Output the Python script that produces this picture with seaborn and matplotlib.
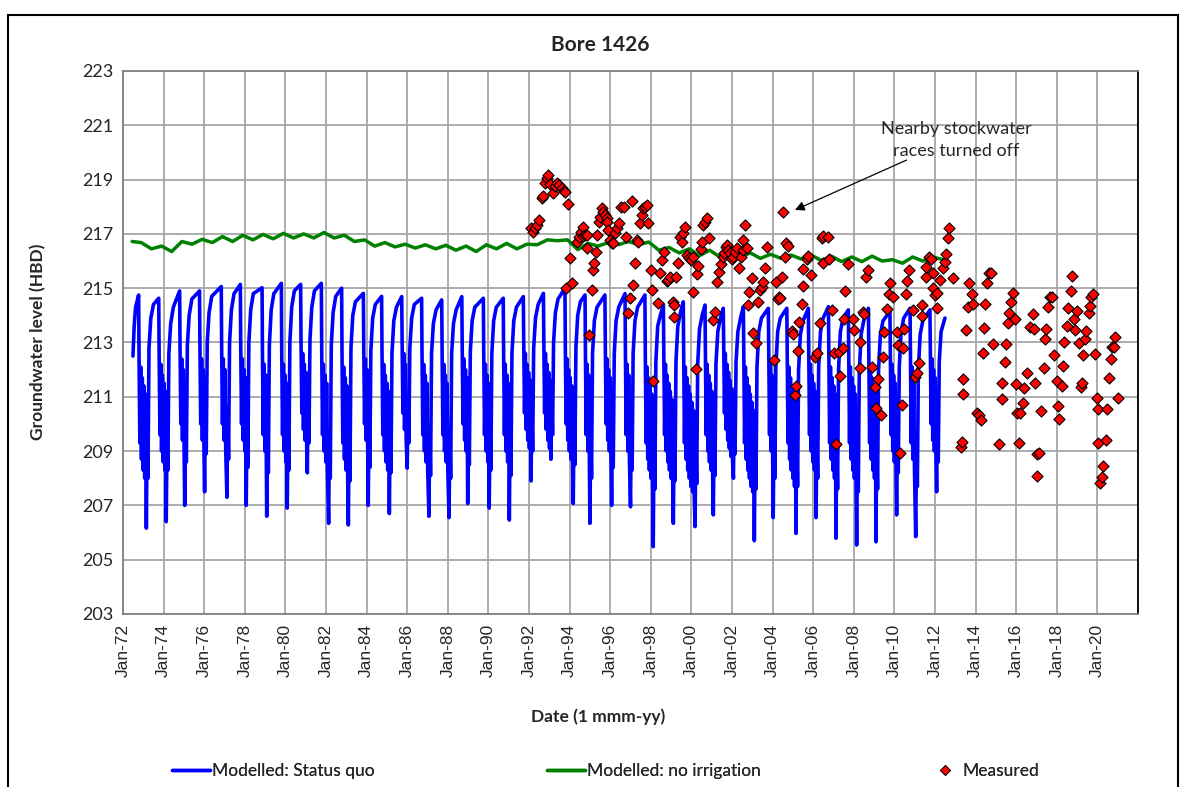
import matplotlib
matplotlib.use("Agg")
import matplotlib.pyplot as plt
from matplotlib.patches import Rectangle
from matplotlib.lines import Line2D
import seaborn as sns
import pandas as pd

# ---------------- data (decimal years, level in m HBD) ----------------
status_quo_dates = [
    1972.49, 1972.55, 1972.62,
    1972.77, 1972.79, 1972.83, 1972.87, 1972.91, 1972.95, 1972.99, 1973.03, 1973.07, 1973.11, 1973.15, 1973.19, 1973.23, 1973.28, 1973.37, 1973.50,
    1973.76, 1973.78, 1973.82, 1973.86, 1973.90, 1973.94, 1973.98, 1974.02, 1974.06, 1974.10, 1974.13, 1974.17, 1974.21, 1974.26, 1974.35, 1974.48,
    1974.79, 1974.81, 1974.85, 1974.89, 1974.93, 1974.97, 1975.01, 1975.04, 1975.08, 1975.12, 1975.17, 1975.26, 1975.39,
    1975.77, 1975.79, 1975.83, 1975.87, 1975.91, 1975.95, 1975.99, 1976.02, 1976.06, 1976.10, 1976.15, 1976.24, 1976.37,
    1976.84, 1976.86, 1976.90, 1976.94, 1976.98, 1977.02, 1977.06, 1977.12, 1977.16, 1977.20, 1977.25, 1977.34, 1977.47,
    1977.78, 1977.80, 1977.84, 1977.88, 1977.92, 1977.96, 1978.00, 1978.04, 1978.07, 1978.11, 1978.15, 1978.20, 1978.29, 1978.42,
    1978.85, 1978.87, 1978.91, 1978.95, 1978.99, 1979.03, 1979.08, 1979.12, 1979.16, 1979.21, 1979.30, 1979.43,
    1979.80, 1979.82, 1979.86, 1979.90, 1979.94, 1979.98, 1980.02, 1980.06, 1980.09, 1980.13, 1980.17, 1980.22, 1980.31, 1980.44,
    1980.75, 1980.77, 1980.81, 1980.85, 1980.89, 1980.93, 1980.97, 1981.01, 1981.05, 1981.08, 1981.12, 1981.16, 1981.21, 1981.30, 1981.43,
    1981.77, 1981.79, 1981.83, 1981.87, 1981.91, 1981.95, 1981.99, 1982.03, 1982.07, 1982.13, 1982.17, 1982.21, 1982.26, 1982.35, 1982.48,
    1982.77, 1982.79, 1982.83, 1982.87, 1982.91, 1982.95, 1982.99, 1983.03, 1983.07, 1983.10, 1983.14, 1983.18, 1983.23, 1983.32, 1983.45,
    1983.84, 1983.86, 1983.90, 1983.94, 1983.98, 1984.02, 1984.08, 1984.12, 1984.16, 1984.21, 1984.30, 1984.43,
    1984.74, 1984.76, 1984.80, 1984.84, 1984.88, 1984.92, 1984.96, 1985.00, 1985.04, 1985.08, 1985.12, 1985.16, 1985.20, 1985.25, 1985.34, 1985.47,
    1985.73, 1985.75, 1985.79, 1985.83, 1985.87, 1985.91, 1985.95, 1986.00, 1986.04, 1986.08, 1986.13, 1986.22, 1986.35,
    1986.71, 1986.73, 1986.77, 1986.81, 1986.85, 1986.89, 1986.93, 1986.97, 1987.01, 1987.07, 1987.11, 1987.15, 1987.20, 1987.29, 1987.42,
    1987.70, 1987.72, 1987.76, 1987.80, 1987.84, 1987.88, 1987.92, 1987.96, 1988.00, 1988.06, 1988.10, 1988.14, 1988.19, 1988.28, 1988.41,
    1988.69, 1988.71, 1988.75, 1988.79, 1988.83, 1988.87, 1988.91, 1988.95, 1988.98, 1989.02, 1989.06, 1989.11, 1989.20, 1989.33,
    1989.75, 1989.77, 1989.81, 1989.85, 1989.89, 1989.93, 1989.97, 1990.01, 1990.04, 1990.08, 1990.12, 1990.17, 1990.26, 1990.39,
    1990.73, 1990.75, 1990.79, 1990.83, 1990.87, 1990.91, 1990.95, 1990.99, 1991.03, 1991.07, 1991.11, 1991.16, 1991.25, 1991.38,
    1991.72, 1991.74, 1991.78, 1991.82, 1991.86, 1991.90, 1991.94, 1991.98, 1992.02, 1992.06, 1992.10, 1992.14, 1992.18, 1992.23, 1992.32, 1992.45,
    1992.71, 1992.73, 1992.77, 1992.81, 1992.85, 1992.89, 1992.93, 1992.97, 1993.01, 1993.05, 1993.08, 1993.12, 1993.16, 1993.21, 1993.30, 1993.43,
    1993.77, 1993.79, 1993.83, 1993.87, 1993.91, 1993.95, 1993.99, 1994.03, 1994.07, 1994.11, 1994.15, 1994.18, 1994.22, 1994.26, 1994.31, 1994.40, 1994.53,
    1994.76, 1994.78, 1994.82, 1994.86, 1994.90, 1994.94, 1995.00, 1995.04, 1995.08, 1995.13, 1995.22, 1995.35,
    1995.74, 1995.76, 1995.80, 1995.84, 1995.88, 1995.92, 1995.96, 1996.00, 1996.04, 1996.07, 1996.11, 1996.15, 1996.20, 1996.29, 1996.42,
    1996.73, 1996.75, 1996.79, 1996.83, 1996.87, 1996.91, 1996.95, 1997.00, 1997.04, 1997.08, 1997.13, 1997.22, 1997.35,
    1997.71, 1997.73, 1997.77, 1997.81, 1997.85, 1997.89, 1997.93, 1997.97, 1998.01, 1998.05, 1998.09, 1998.12, 1998.16, 1998.20, 1998.25, 1998.34, 1998.47,
    1998.62, 1998.64, 1998.68, 1998.72, 1998.76, 1998.80, 1998.84, 1998.88, 1998.92, 1998.96, 1999.00, 1999.04, 1999.08, 1999.11, 1999.15, 1999.19, 1999.24, 1999.33, 1999.46,
    1999.60, 1999.62, 1999.66, 1999.70, 1999.74, 1999.78, 1999.82, 1999.86, 1999.90, 1999.94, 1999.98, 2000.02, 2000.06, 2000.10, 2000.14, 2000.18, 2000.22, 2000.26, 2000.31, 2000.40, 2000.53,
    2000.67, 2000.69, 2000.73, 2000.77, 2000.81, 2000.85, 2000.89, 2000.93, 2000.97, 2001.01, 2001.05, 2001.08, 2001.12, 2001.16, 2001.21, 2001.30, 2001.43,
    2001.57, 2001.59, 2001.63, 2001.67, 2001.71, 2001.75, 2001.79, 2001.83, 2001.87, 2001.91, 2001.95, 2001.99, 2002.03, 2002.07, 2002.11, 2002.15, 2002.20, 2002.29, 2002.42,
    2002.56, 2002.58, 2002.62, 2002.66, 2002.70, 2002.74, 2002.78, 2002.82, 2002.86, 2002.90, 2002.94, 2002.98, 2003.02, 2003.06, 2003.10, 2003.14, 2003.18, 2003.23, 2003.32, 2003.45,
    2003.79, 2003.81, 2003.85, 2003.89, 2003.93, 2003.97, 2004.03, 2004.07, 2004.11, 2004.16, 2004.25, 2004.38,
    2004.70, 2004.72, 2004.76, 2004.80, 2004.84, 2004.88, 2004.92, 2004.96, 2005.00, 2005.04, 2005.08, 2005.12, 2005.15, 2005.19, 2005.23, 2005.28, 2005.37, 2005.50,
    2005.76, 2005.78, 2005.82, 2005.86, 2005.90, 2005.94, 2005.98, 2006.02, 2006.06, 2006.10, 2006.14, 2006.18, 2006.22, 2006.27, 2006.36, 2006.49,
    2006.75, 2006.77, 2006.81, 2006.85, 2006.89, 2006.93, 2006.97, 2007.01, 2007.05, 2007.09, 2007.12, 2007.16, 2007.20, 2007.25, 2007.34, 2007.47,
    2007.73, 2007.75, 2007.79, 2007.83, 2007.87, 2007.91, 2007.95, 2007.99, 2008.03, 2008.07, 2008.11, 2008.14, 2008.18, 2008.22, 2008.27, 2008.36, 2008.49,
    2008.72, 2008.74, 2008.78, 2008.82, 2008.86, 2008.90, 2008.94, 2008.98, 2009.02, 2009.06, 2009.09, 2009.13, 2009.17, 2009.22, 2009.31, 2009.44,
    2009.78, 2009.80, 2009.84, 2009.88, 2009.92, 2009.96, 2010.00, 2010.04, 2010.08, 2010.11, 2010.15, 2010.19, 2010.24, 2010.33, 2010.46,
    2010.77, 2010.79, 2010.83, 2010.87, 2010.91, 2010.95, 2010.99, 2011.05, 2011.09, 2011.13, 2011.18, 2011.27, 2011.40,
    2011.75, 2011.77, 2011.81, 2011.85, 2011.89, 2011.93, 2011.97, 2012.01, 2012.05, 2012.08, 2012.12, 2012.16, 2012.21, 2012.30, 2012.49,
]
status_quo_levels = [
    212.5, 213.6, 214.3,
    214.75, 212.5, 209.3, 212.1, 208.7, 211.7, 208.3, 211.4, 208.0, 211.1, 206.16, 210.0, 208.0, 212.8, 213.9, 214.4,
    214.63, 212.6, 209.6, 212.2, 209.0, 211.8, 208.6, 211.5, 208.3, 211.2, 206.40, 209.6, 208.3, 212.6, 213.7, 214.3,
    214.90, 212.8, 210.0, 212.4, 209.4, 212.0, 209.0, 207.00, 210.4, 208.6, 212.9, 214.0, 214.6,
    214.90, 212.8, 210.0, 212.4, 209.4, 212.0, 209.0, 207.50, 210.8, 208.9, 213.0, 214.1, 214.7,
    215.06, 212.8, 210.0, 212.4, 209.4, 212.0, 209.0, 207.30, 210.6, 208.7, 213.0, 214.2, 214.8,
    215.14, 212.8, 210.0, 212.4, 209.4, 212.0, 209.0, 211.7, 207.00, 210.3, 208.4, 213.0, 214.2, 214.8,
    215.02, 212.6, 209.6, 212.2, 209.0, 211.8, 206.60, 209.9, 208.2, 212.9, 214.2, 214.8,
    215.18, 212.6, 209.6, 212.2, 209.0, 211.8, 208.6, 211.5, 206.90, 210.1, 208.3, 213.0, 214.3, 214.9,
    215.14, 213.0, 210.4, 212.6, 209.8, 212.2, 209.4, 211.9, 209.1, 208.20, 211.0, 209.3, 213.1, 214.3, 214.9,
    215.18, 212.6, 209.6, 212.2, 209.0, 211.8, 208.6, 211.5, 208.3, 206.34, 209.8, 208.0, 212.9, 214.1, 214.7,
    215.00, 212.5, 209.3, 212.1, 208.7, 211.7, 208.3, 211.4, 208.0, 206.28, 209.7, 207.9, 212.8, 214.0, 214.5,
    214.81, 212.8, 210.0, 212.4, 209.4, 212.0, 207.00, 210.2, 208.4, 212.7, 213.9, 214.4,
    214.70, 212.6, 209.6, 212.2, 209.0, 211.8, 208.6, 211.5, 208.3, 211.2, 206.70, 209.9, 208.2, 212.6, 213.8, 214.3,
    214.69, 213.0, 210.4, 212.6, 209.8, 212.2, 209.4, 208.37, 210.9, 209.3, 212.8, 213.9, 214.4,
    214.63, 212.6, 209.6, 212.2, 209.0, 211.8, 208.6, 211.5, 208.3, 206.60, 209.8, 208.1, 212.6, 213.7, 214.2,
    214.57, 212.6, 209.6, 212.2, 209.0, 211.8, 208.6, 211.5, 208.3, 206.55, 209.7, 208.0, 212.6, 213.7, 214.2,
    214.69, 212.8, 210.0, 212.4, 209.4, 212.0, 209.0, 211.7, 207.07, 210.2, 208.5, 212.7, 213.8, 214.3,
    214.63, 212.6, 209.6, 212.2, 209.0, 211.8, 208.6, 211.5, 206.90, 210.0, 208.3, 212.6, 213.8, 214.3,
    214.63, 212.6, 209.6, 212.2, 209.0, 211.8, 208.6, 211.5, 206.46, 209.8, 208.1, 212.6, 213.8, 214.3,
    214.69, 213.0, 210.4, 212.6, 209.8, 212.2, 209.4, 211.9, 209.1, 211.6, 207.90, 210.6, 209.0, 212.8, 213.9, 214.4,
    214.81, 213.0, 210.4, 212.6, 209.8, 212.2, 209.4, 211.9, 209.1, 211.6, 208.70, 211.2, 209.6, 213.0, 214.1, 214.6,
    215.00, 212.8, 210.0, 212.4, 209.4, 212.0, 209.0, 211.7, 208.7, 211.4, 208.4, 207.07, 210.2, 208.5, 212.8, 214.0, 214.5,
    214.75, 212.6, 209.6, 212.2, 209.0, 211.8, 206.34, 209.8, 208.0, 212.6, 213.8, 214.3,
    214.75, 212.8, 210.0, 212.4, 209.4, 212.0, 209.0, 211.7, 208.7, 207.00, 210.1, 208.4, 212.6, 213.8, 214.3,
    214.80, 212.6, 209.6, 212.2, 209.0, 211.8, 208.6, 206.95, 210.1, 208.3, 212.6, 213.8, 214.3,
    214.75, 212.5, 209.3, 212.1, 208.7, 211.7, 208.3, 211.4, 208.0, 211.1, 207.7, 205.48, 209.5, 207.6, 212.3, 213.6, 214.0,
    214.40, 212.6, 209.6, 212.2, 209.0, 211.8, 208.6, 211.5, 208.3, 211.2, 208.0, 210.9, 207.8, 206.34, 209.7, 207.9, 212.3, 213.6, 214.1,
    214.50, 212.5, 209.3, 212.1, 208.7, 211.7, 208.3, 211.4, 208.0, 211.1, 207.7, 210.8, 207.5, 210.5, 207.3, 206.22, 209.6, 207.8, 212.2, 213.5, 214.0,
    214.38, 212.6, 209.6, 212.2, 209.0, 211.8, 208.6, 211.5, 208.3, 211.2, 208.0, 206.65, 209.8, 208.1, 212.2, 213.4, 213.9,
    214.26, 213.0, 210.4, 212.6, 209.8, 212.2, 209.4, 211.9, 209.1, 211.6, 208.8, 211.3, 208.6, 208.00, 210.6, 208.9, 212.3, 213.4, 213.9,
    214.32, 212.5, 209.3, 212.1, 208.7, 211.7, 208.3, 211.4, 208.0, 211.1, 207.7, 210.8, 207.5, 210.5, 205.70, 209.4, 207.6, 212.1, 213.4, 213.9,
    214.26, 212.6, 209.6, 212.2, 209.0, 211.8, 206.55, 209.8, 208.0, 212.1, 213.4, 213.9,
    214.26, 212.5, 209.3, 212.1, 208.7, 211.7, 208.3, 211.4, 208.0, 211.1, 207.7, 210.8, 205.97, 209.5, 207.7, 212.0, 213.3, 213.8,
    214.26, 212.6, 209.6, 212.2, 209.0, 211.8, 208.6, 211.5, 208.3, 211.2, 206.55, 209.7, 208.0, 212.1, 213.4, 213.9,
    214.32, 212.5, 209.3, 212.1, 208.7, 211.7, 208.3, 211.4, 208.0, 211.1, 205.79, 209.4, 207.6, 212.0, 213.4, 213.9,
    214.20, 212.5, 209.3, 212.1, 208.7, 211.7, 208.3, 211.4, 208.0, 211.1, 207.7, 205.54, 209.3, 207.5, 211.9, 213.3, 213.8,
    214.26, 212.5, 209.3, 212.1, 208.7, 211.7, 208.3, 211.4, 208.0, 211.1, 205.66, 209.4, 207.6, 212.0, 213.3, 213.8,
    214.14, 212.6, 209.6, 212.2, 209.0, 211.8, 208.6, 211.5, 208.3, 206.65, 209.9, 208.2, 212.1, 213.4, 213.9,
    214.26, 212.5, 209.3, 212.1, 208.7, 211.7, 208.3, 205.85, 209.4, 207.7, 212.0, 213.3, 213.8,
    214.20, 212.8, 210.0, 212.4, 209.4, 212.0, 209.0, 211.7, 208.7, 207.50, 210.4, 208.6, 212.3, 213.4, 213.9,
]

no_irrigation_dates = [
    1972.45, 1972.90, 1973.40, 1973.90, 1974.40, 1974.90, 1975.40, 1975.90, 1976.40, 1976.90,
    1977.40, 1977.90, 1978.40, 1978.90, 1979.40, 1979.90, 1980.40, 1980.90, 1981.40, 1981.90,
    1982.40, 1982.90, 1983.40, 1983.90, 1984.40, 1984.90, 1985.40, 1985.90, 1986.40, 1986.90,
    1987.40, 1987.90, 1988.40, 1988.90, 1989.40, 1989.90, 1990.40, 1990.90, 1991.40, 1991.90,
    1992.40, 1992.90, 1993.40, 1993.90, 1994.40, 1994.90, 1995.40, 1995.90, 1996.40, 1996.90,
    1997.40, 1997.90, 1998.40, 1998.90, 1999.40, 1999.90, 2000.40, 2000.90, 2001.40, 2001.90,
    2002.40, 2002.90, 2003.40, 2003.90, 2004.40, 2004.90, 2005.40, 2005.90, 2006.40, 2006.90,
    2007.40, 2007.90, 2008.40, 2008.90, 2009.40, 2009.90, 2010.40, 2010.90, 2011.40, 2011.90,
    2012.40,
]
no_irrigation_levels = [
    216.72, 216.68, 216.45, 216.55, 216.35, 216.72, 216.62, 216.80, 216.68, 216.90,
    216.72, 216.95, 216.78, 216.98, 216.82, 217.02, 216.85, 217.00, 216.85, 217.05,
    216.85, 216.95, 216.72, 216.78, 216.55, 216.68, 216.52, 216.62, 216.48, 216.60,
    216.45, 216.58, 216.40, 216.55, 216.35, 216.60, 216.45, 216.65, 216.45, 216.62,
    216.60, 216.78, 216.75, 216.78, 216.42, 216.65, 216.55, 216.68, 216.60, 216.72,
    216.60, 216.70, 216.40, 216.50, 216.30, 216.45, 216.20, 216.40, 216.15, 216.35,
    216.15, 216.30, 216.10, 216.25, 216.10, 216.22, 216.08, 216.22, 216.02, 216.18,
    215.98, 216.15, 215.98, 216.18, 216.00, 216.05, 215.92, 216.15, 216.00, 216.15,
    216.05,
]

measured_dates = [
    1992.08, 1992.21, 1992.29, 1992.41, 1992.51, 1992.62, 1992.71, 1992.79, 1992.87, 1992.95,
    1993.03, 1993.17, 1993.28, 1993.40, 1993.49, 1993.61, 1993.72, 1993.77, 1993.94, 1994.02,
    1993.81, 1994.10, 1994.35, 1994.48, 1994.55, 1994.64, 1994.68, 1994.76, 1994.84, 1994.87,
    1994.94, 1995.09, 1995.17, 1995.20, 1995.30, 1995.37, 1995.46, 1995.50, 1995.58, 1995.66,
    1995.74, 1995.83, 1995.86, 1995.91, 1995.99, 1996.07, 1996.15, 1996.24, 1996.32, 1996.42,
    1996.52, 1996.68, 1996.78, 1996.89, 1996.98, 1997.11, 1997.06, 1997.22, 1997.30, 1997.39,
    1997.47, 1997.55, 1997.60, 1997.71, 1997.80, 1997.88, 1997.99, 1998.04, 1998.13, 1998.37,
    1998.45, 1998.57, 1998.67, 1998.78, 1998.86, 1998.95, 1999.08, 1999.14, 1999.14, 1999.24,
    1999.36, 1999.44, 1999.52, 1999.60, 1999.68, 1999.80, 1999.90, 1999.96, 2000.06, 2000.09,
    2000.23, 2000.29, 2000.34, 2000.47, 2000.51, 2000.59, 2000.67, 2000.75, 2000.88, 2001.08,
    2001.16, 2001.28, 2001.37, 2001.44, 2001.54, 2001.60, 2001.70, 2001.77, 2001.82, 2001.90,
    2001.98, 2002.07, 2002.15, 2002.23, 2002.36, 2002.43, 2002.53, 2002.56, 2002.64, 2002.72,
    2002.80, 2002.85, 2002.97, 2003.05, 2003.18, 2003.30, 2003.38, 2003.46, 2003.54, 2003.62,
    2003.74, 2004.07, 2004.17, 2004.28, 2004.33,
    2004.37, 2004.45, 2004.50, 2004.61, 2004.66, 2004.78, 2004.94, 2005.02, 2005.10, 2005.15,
    2005.27, 2005.32, 2005.43, 2005.48, 2005.51, 2005.68, 2005.76, 2005.88, 2006.09, 2006.20,
    2006.34, 2006.42, 2006.50, 2006.50, 2006.75, 2006.80, 2006.91, 2007.03, 2007.11, 2007.29,
    2007.32, 2007.45, 2007.52, 2007.57, 2007.70, 2007.94, 2008.01, 2008.30, 2008.30, 2008.47,
    2008.50, 2008.60, 2008.72, 2008.88, 2009.05, 2009.09, 2009.21, 2009.32, 2009.46, 2009.49,
    2009.62, 2009.75, 2009.78, 2009.95, 2010.11, 2010.19, 2010.28, 2010.36, 2010.41, 2010.47,
    2010.57, 2010.64, 2010.74, 2010.90, 2011.02, 2011.10, 2011.23, 2011.34, 2011.38, 2011.54,
    2011.56, 2011.72, 2011.78, 2011.88, 2011.92, 2012.00, 2012.08, 2012.12, 2012.25, 2012.40,
    2012.49, 2012.54, 2012.66, 2012.71, 2012.87,
    2013.28, 2013.31, 2013.36, 2013.40, 2013.51, 2013.63, 2013.69, 2013.81, 2013.86, 2014.09,
    2014.19, 2014.25, 2014.35, 2014.41, 2014.46, 2014.58, 2014.64, 2014.78, 2014.87, 2015.17,
    2015.30, 2015.30, 2015.45, 2015.50, 2015.61, 2015.66, 2015.73, 2015.86, 2015.94, 2015.99,
    2016.06, 2016.16, 2016.19, 2016.32, 2016.40, 2016.52, 2016.68, 2016.81, 2016.88, 2016.94,
    2017.04, 2017.04, 2017.11, 2017.22, 2017.37, 2017.42, 2017.47, 2017.58, 2017.67, 2017.76,
    2017.88, 2017.99, 2018.08, 2018.11, 2018.24, 2018.32, 2018.37, 2018.49, 2018.54, 2018.68,
    2018.73, 2018.85, 2018.90, 2018.98, 2019.09, 2019.18, 2019.23, 2019.28, 2019.41, 2019.44,
    2019.57, 2019.64, 2019.67, 2019.80, 2019.88, 2019.96, 2020.05, 2020.05, 2020.13, 2020.21,
    2020.29, 2020.42, 2020.46, 2020.59, 2020.65, 2020.70, 2020.82, 2020.88, 2021.01,
]
measured_levels = [
    217.21, 217.08, 217.20, 217.33, 217.51, 218.31, 218.40, 218.89, 219.05, 219.17,
    218.84, 218.50, 218.76, 218.89, 218.80, 218.68, 218.59, 218.56, 218.09, 216.10,
    214.99, 215.18, 216.71, 216.90, 217.08, 217.27, 216.92, 216.96, 216.96, 216.47,
    213.28, 214.93, 215.67, 215.94, 216.34, 216.96, 217.45, 217.63, 217.94, 217.82,
    217.70, 217.57, 217.45, 217.14, 216.77, 216.68, 216.65, 217.02, 217.21, 217.39,
    218.00, 217.98, 216.87, 214.07, 214.63, 215.12, 218.22, 215.91, 216.77, 216.71,
    217.39, 217.70, 217.94, 218.00, 218.06, 217.41, 215.67, 214.93, 211.59, 214.44,
    215.55, 216.04, 216.35, 215.28, 215.30, 215.42, 214.50, 214.38, 213.93, 215.40,
    215.94, 216.87, 216.71, 217.05, 217.27, 216.22, 216.10, 216.04, 216.16, 214.87,
    212.02, 215.52, 215.82, 216.43, 216.71, 217.33, 217.45, 217.57, 216.84, 213.83,
    214.14, 215.24, 215.61, 215.89, 216.14, 216.28, 216.53, 216.59, 216.41, 216.28,
    216.06, 216.16, 216.35, 216.47, 215.73, 216.16, 216.41, 216.77, 217.33, 216.47,
    214.38, 214.87, 215.36, 213.34, 212.99, 214.50, 214.93, 215.06, 215.24, 215.73,
    216.50, 212.36, 215.24, 214.59, 214.69,
    214.63, 215.40, 217.82, 216.14, 216.68, 216.55, 213.44, 213.31, 211.07, 211.40,
    212.70, 213.77, 214.42, 215.08, 215.70, 216.06, 216.19, 215.49, 212.48, 212.62,
    213.73, 216.84, 216.92, 215.94, 216.87, 216.06, 214.20, 212.62, 209.26, 212.66,
    211.77, 212.78, 213.85, 214.91, 215.89, 213.85, 213.46, 213.03, 212.05, 214.14,
    214.05, 215.40, 215.67, 212.11, 211.37, 210.58, 211.64, 210.33, 212.48, 213.40,
    214.22, 214.79, 215.20, 214.66, 213.40, 212.91, 208.94, 210.70, 212.79, 213.48,
    214.79, 215.28, 215.67, 214.20, 211.74, 211.86, 212.23, 213.97, 214.38, 215.40,
    215.77, 216.14, 216.08, 214.99, 215.55, 214.75, 214.83, 214.26, 215.30, 215.73,
    215.97, 216.26, 216.84, 217.20, 215.36,
    209.16, 209.35, 211.10, 211.64, 213.46, 214.30, 215.20, 214.79, 214.40, 210.39,
    210.33, 210.15, 212.60, 213.52, 214.42, 215.18, 215.55, 215.57, 212.93, 209.26,
    210.92, 211.50, 212.29, 212.93, 213.73, 214.10, 214.50, 214.81, 213.85, 211.46,
    210.42, 209.31, 210.42, 210.78, 211.31, 211.89, 213.58, 214.05, 213.51, 211.52,
    208.88, 208.08, 208.92, 210.47, 212.05, 213.12, 213.51, 214.32, 214.66, 214.66,
    212.54, 211.59, 210.66, 210.18, 211.41, 212.13, 213.03, 213.61, 214.27, 214.91,
    215.45, 213.85, 213.46, 214.17, 212.97, 211.37, 211.50, 212.54, 213.12, 213.44,
    214.10, 214.34, 214.66, 214.79, 212.58, 210.94, 210.54, 209.31, 207.81, 208.03,
    208.45, 209.41, 210.54, 211.68, 212.38, 212.85, 212.85, 213.19, 210.94,
]

year_ticks = list(range(1972, 2021, 2))
year_tick_labels = ["Jan-%02d" % (y % 100) for y in year_ticks]
level_ticks = list(range(203, 224, 2))

# ---------------- figure ----------------
sns.set_theme(style="white")
plt.rcParams["font.family"] = ["Lato", "DejaVu Sans"]

W, H = 1186, 787
fig = plt.figure(figsize=(W / 100, H / 100), dpi=100)
ax = fig.add_axes([123 / W, 1 - 614 / H, (1138 - 123) / W, (614 - 71) / H])

sq = pd.DataFrame({"date": status_quo_dates, "level": status_quo_levels})
ni = pd.DataFrame({"date": no_irrigation_dates, "level": no_irrigation_levels})
ms = pd.DataFrame({"date": measured_dates, "level": measured_levels})

sns.lineplot(data=sq, x="date", y="level", ax=ax, color="#0000FF", linewidth=2.6,
             sort=False, estimator=None, zorder=3)
sns.lineplot(data=ni, x="date", y="level", ax=ax, color="#008000", linewidth=2.5,
             sort=False, estimator=None, zorder=4)
sns.scatterplot(data=ms, x="date", y="level", ax=ax, marker="D", s=32, color="#FF0000",
                edgecolor="black", linewidth=0.8, zorder=5)

ax.set_xlim(1972, 2022)
ax.set_ylim(203, 223)
ax.set_xticks(year_ticks)
ax.set_xticklabels(year_tick_labels, rotation=90, fontsize=12.5, family="Liberation Sans")
ax.set_yticks(level_ticks)
ax.set_yticklabels([str(v) for v in level_ticks], fontsize=13)
ax.tick_params(axis="both", length=0, pad=7)
ax.grid(False)
for yv in level_ticks:
    ax.axhline(yv, color="#a6a6a6", linewidth=1.3, zorder=1)
for xv in range(1972, 2023, 2):
    ax.axvline(xv, color="#a6a6a6", linewidth=1.3, zorder=1)
for side in ["left", "bottom", "top"]:
    ax.spines[side].set_color("#808080")
    ax.spines[side].set_linewidth(1.3)
ax.spines["right"].set_color("black")
ax.spines["right"].set_linewidth(1.3)

ax.set_xlabel("")
ax.set_ylabel("")
fig.text(600 / W, 1 - 45 / H, "Bore 1426", ha="center", va="center", fontsize=15, fontweight="bold")
fig.text(38 / W, 1 - 342 / H, "Groundwater level (HBD)", ha="center", va="center",
         rotation=90, fontsize=12.5, fontweight="bold")
fig.text(598 / W, 1 - 717 / H, "Date (1 mmm-yy)", ha="center", va="center",
         fontsize=12.5, fontweight="bold")

ax.text(2013.05, 220.45, "Nearby stockwater\nraces turned off", ha="center", va="center",
        fontsize=13, linespacing=1.45)
ax.annotate("", xy=(2005.1, 217.88), xytext=(2010.6, 219.72),
            arrowprops=dict(arrowstyle="-|>", color="black", lw=0.9, shrinkA=0, shrinkB=0,
                            mutation_scale=14))

# legend (three separate entries, as in the original)
entries = [
    (Line2D([], [], color="#0000FF", linewidth=2.5), "Modelled: Status quo", 172, 2.2, 0.1),
    (Line2D([], [], color="#008000", linewidth=2.5), "Modelled: no irrigation", 547, 2.2, 0.1),
    (Line2D([], [], color="#FF0000", marker="D", markersize=5, markeredgecolor="black",
            markeredgewidth=0.6, linestyle="none"), "Measured", 936, 1.0, 0.5),
]
for handle, label, xpos, hl, tp in entries:
    leg = fig.legend([handle], [label], loc="center left", bbox_to_anchor=(xpos / W, 1 - 771 / H),
                     frameon=False, fontsize=12.5, handlelength=hl, handletextpad=tp,
                     borderpad=0, borderaxespad=0)
    fig.add_artist(leg)

# outer chart border
fig.patches.append(Rectangle((8 / W, -0.02), (1178 - 8) / W, 1 - 15 / H + 0.02, transform=fig.transFigure,
                             fill=False, edgecolor="black", linewidth=1.5))

fig.savefig("out.png", dpi=100)
